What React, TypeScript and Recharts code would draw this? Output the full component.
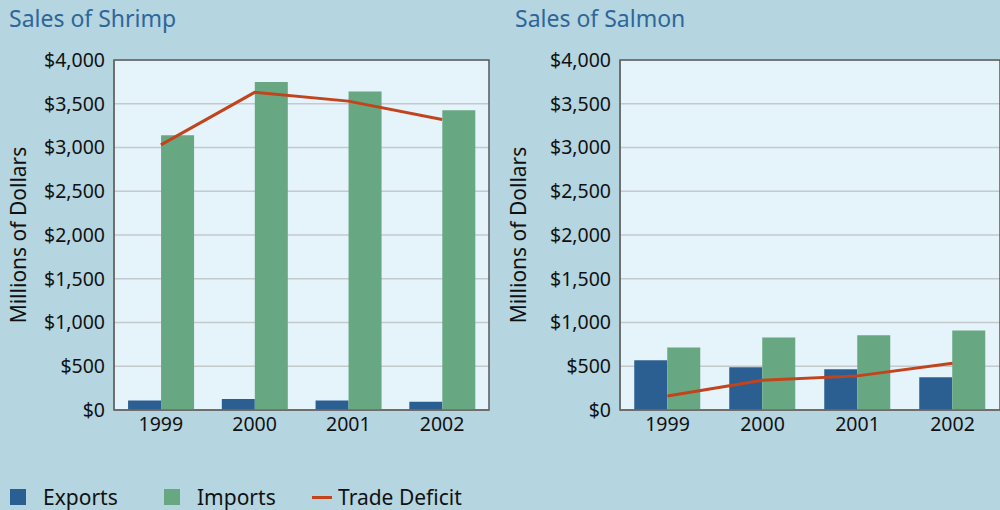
import React from "react";
import {
  Bar,
  CartesianGrid,
  ComposedChart,
  Line,
  ReferenceArea,
  XAxis,
  YAxis,
} from "recharts";

const YEARS = ["1999", "2000", "2001", "2002"];

const SHRIMP_EXPORTS = [110, 125, 110, 95];
const SHRIMP_IMPORTS = [3140, 3750, 3640, 3425];
const SHRIMP_DEFICIT = [3030, 3630, 3530, 3320];

const SALMON_EXPORTS = [570, 490, 465, 375];
const SALMON_IMPORTS = [715, 830, 855, 910];
const SALMON_DEFICIT = [160, 340, 390, 535];

const Y_TICKS = [0, 500, 1000, 1500, 2000, 2500, 3000, 3500, 4000];

const BG = "#b5d5e0";
const PLOT_BG = "#e5f3fa";
const EXPORT_COLOR = "#2c5f91";
const IMPORT_COLOR = "#67a882";
const DEFICIT_COLOR = "#c1441c";
const TITLE_COLOR = "#2f6699";
const FONT = "'Noto Sans', 'Open Sans', sans-serif";

type Row = { year: string; exports: number; imports: number; deficit: number };

function buildRows(exp: number[], imp: number[], def: number[]): Row[] {
  return YEARS.map((year, i) => ({ year, exports: exp[i], imports: imp[i], deficit: def[i] }));
}

const fmtDollars = (v: number) => "$" + v.toLocaleString("en-US");

function AxisTitle({ viewBox }: { viewBox?: { x: number; y: number; height: number } }) {
  if (!viewBox) return null;
  const x = viewBox.x + 18;
  const y = viewBox.y + viewBox.height / 2;
  return (
    <text
      x={x}
      y={y}
      transform={`rotate(-90 ${x} ${y})`}
      textAnchor="middle"
      dominantBaseline="central"
      fill="#111"
      fontSize={21}
      fontFamily={FONT}
    >
      Millions of Dollars
    </text>
  );
}

function SalesChart({
  title,
  data,
  axisWidth,
  rightMargin,
}: {
  title: string;
  data: Row[];
  axisWidth: number;
  rightMargin: number;
}) {
  const tick = { fill: "#111", fontSize: 19.5, fontFamily: FONT };
  return (
    <div style={{ position: "relative", width: 500, height: 440 }}>
      <div
        style={{
          position: "absolute",
          left: axisWidth - 105,
          top: 2,
          color: TITLE_COLOR,
          fontFamily: FONT,
          fontSize: 23,
        }}
      >
        {title}
      </div>
      <ComposedChart
        width={500}
        height={440}
        data={data}
        margin={{ top: 60, right: rightMargin, left: 0, bottom: 0 }}
        barCategoryGap="15%"
        barGap={0}
      >
        <CartesianGrid vertical={false} stroke="#c4c9cc" strokeWidth={1.5} fill={PLOT_BG} />
        <XAxis
          dataKey="year"
          height={30}
          tickLine={false}
          axisLine={{ stroke: "#6b6b6b", strokeWidth: 1.5 }}
          tick={tick}
          tickMargin={1}
        />
        <YAxis
          width={axisWidth}
          domain={[0, 4000]}
          ticks={Y_TICKS}
          tickFormatter={fmtDollars}
          tickLine={false}
          axisLine={{ stroke: "#6b6b6b", strokeWidth: 1.5 }}
          tick={tick}
          tickMargin={3}
          interval={0}
          label={<AxisTitle />}
        />
        <Bar dataKey="exports" fill={EXPORT_COLOR} isAnimationActive={false} />
        <Bar dataKey="imports" fill={IMPORT_COLOR} isAnimationActive={false} />
        <Line
          dataKey="deficit"
          type="linear"
          stroke={DEFICIT_COLOR}
          strokeWidth={3}
          dot={false}
          activeDot={false}
          isAnimationActive={false}
        />
        <ReferenceArea y1={0} y2={4000} fill="none" stroke="#5a5a5a" strokeWidth={1.5} />
      </ComposedChart>
    </div>
  );
}

const LEGEND_ITEMS = [
  { label: "Exports", color: EXPORT_COLOR, kind: "square", left: 10 },
  { label: "Imports", color: IMPORT_COLOR, kind: "square", left: 164 },
  { label: "Trade Deficit", color: DEFICIT_COLOR, kind: "line", left: 312 },
];

function ChartLegend() {
  return (
    <>
      {LEGEND_ITEMS.map((item) => (
        <div
          key={item.label}
          style={{
            position: "absolute",
            left: item.left,
            top: 482,
            height: 30,
            display: "flex",
            alignItems: "center",
            fontFamily: FONT,
            fontSize: 21,
            color: "#111",
            whiteSpace: "nowrap",
          }}
        >
          {item.kind === "square" ? (
            <span style={{ width: 16, height: 16, background: item.color, marginRight: 17, display: "inline-block" }} />
          ) : (
            <span style={{ width: 20, height: 3, background: item.color, marginRight: 6, display: "inline-block" }} />
          )}
          <span>{item.label}</span>
        </div>
      ))}
    </>
  );
}

export default function App() {
  const shrimp = buildRows(SHRIMP_EXPORTS, SHRIMP_IMPORTS, SHRIMP_DEFICIT);
  const salmon = buildRows(SALMON_EXPORTS, SALMON_IMPORTS, SALMON_DEFICIT);
  return (
    <div
      style={{
        position: "absolute",
        left: 0,
        top: 0,
        width: 1000,
        height: 510,
        background: BG,
        overflow: "hidden",
      }}
    >
      <div style={{ position: "absolute", left: 0, top: 0 }}>
        <SalesChart title="Sales of Shrimp" data={shrimp} axisWidth={114} rightMargin={11} />
      </div>
      <div style={{ position: "absolute", left: 500, top: 0 }}>
        <SalesChart title="Sales of Salmon" data={salmon} axisWidth={120} rightMargin={0} />
      </div>
      <ChartLegend />
    </div>
  );
}
